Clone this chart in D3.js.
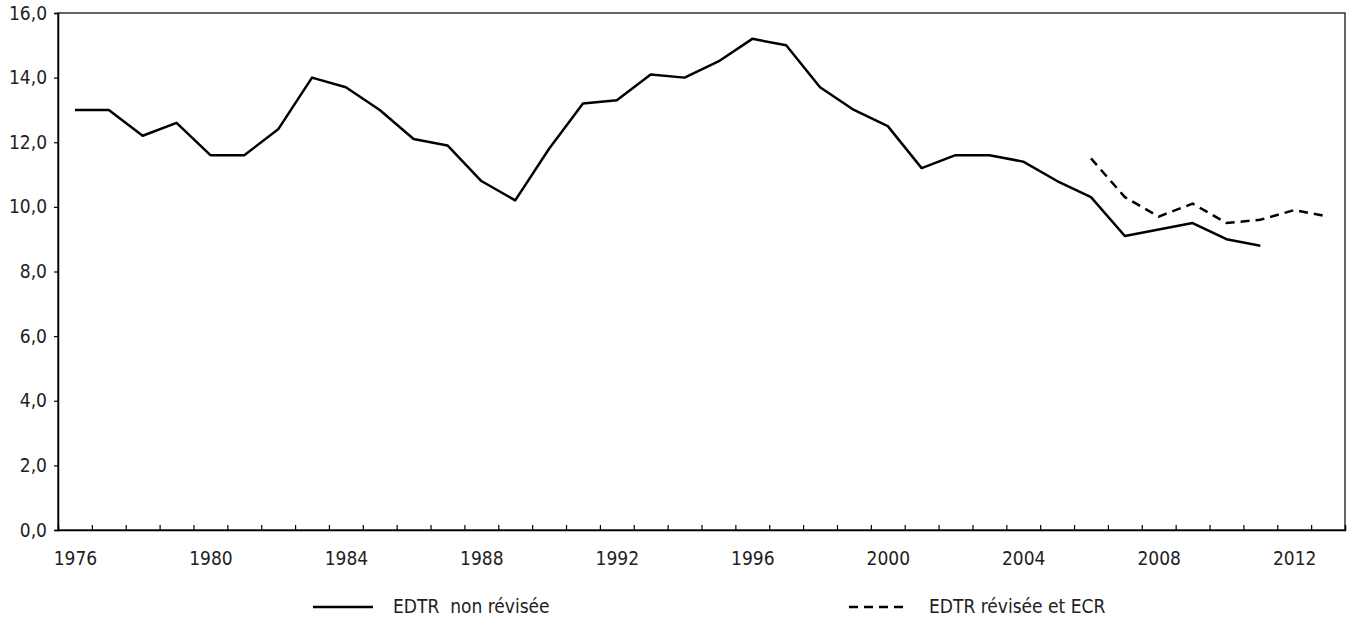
<!DOCTYPE html>
<html>
  <head>
    <meta charset="utf-8" />
    <script src="https://d3js.org/d3.v7.min.js"></script>
    <style>
      body {
        margin: 0;
        background: white;
      }
      svg text {
        font-family: "Liberation Sans Narrow", "DejaVu Sans Condensed", sans-serif;
        font-size: 19px;
        fill: #222;
      }
    </style>
  </head>
  <body>
    <svg id="chart" width="1348" height="619"></svg>
    <script>
      // years on the axis
      var years = d3.range(1976, 2014);
      var labelYears = [1976, 1980, 1984, 1988, 1992, 1996, 2000, 2004, 2008, 2012];
      var yTicks = [0, 2, 4, 6, 8, 10, 12, 14, 16];

      // EDTR non révisée, 1976-2011
      var oldYears = d3.range(1976, 2012);
      var oldValues = [
        13.0, 13.0, 12.2, 12.6, 11.6, 11.6, 12.4, 14.0, 13.7, 13.0,
        12.1, 11.9, 10.8, 10.2, 11.8, 13.2, 13.3, 14.1, 14.0, 14.5,
        15.2, 15.0, 13.7, 13.0, 12.5, 11.2, 11.6, 11.6, 11.4, 10.8,
        10.3, 9.1, 9.3, 9.5, 9.0, 8.8
      ];

      // EDTR révisée et ECR, 2006-2013
      var newYears = d3.range(2006, 2014);
      var newValues = [11.5, 10.3, 9.7, 10.1, 9.5, 9.6, 9.9, 9.7];

      var plotLeft = 58, plotRight = 1345, plotTop = 13, plotBottom = 530;

      var svg = d3.select("#chart");

      // year boundaries are integers, points sit in the middle of each year
      var x = d3.scaleLinear().domain([1976, 2014]).range([plotLeft, plotRight]);
      var y = d3.scaleLinear().domain([0, 16]).range([plotBottom, plotTop]);

      // frame
      svg.append("rect")
        .attr("x", plotLeft)
        .attr("y", plotTop)
        .attr("width", plotRight - plotLeft)
        .attr("height", plotBottom - plotTop)
        .attr("fill", "none")
        .attr("stroke", "#000")
        .attr("stroke-width", 1.2);

      // y axis
      var yAxis = svg.append("g")
        .attr("transform", "translate(" + plotLeft + ",0)")
        .call(d3.axisLeft(y).tickValues(yTicks).tickSize(4).tickPadding(7)
          .tickFormat(function (d) { return d3.format(".1f")(d).replace(".", ","); }));
      yAxis.select(".domain").attr("stroke-width", 1.5);
      yAxis.selectAll(".tick line").attr("stroke-width", 1.2);

      // x ticks at year boundaries, pointing up
      var xTicks = svg.append("g")
        .attr("transform", "translate(0," + plotBottom + ")")
        .call(d3.axisBottom(x).tickValues(years.slice(1)).tickSize(-5).tickFormat(""));
      xTicks.select(".domain").attr("stroke-width", 1.5);
      xTicks.selectAll(".tick line").attr("stroke-width", 1.2);

      // x labels in the middle of each year
      var xLabels = svg.append("g")
        .attr("transform", "translate(0," + plotBottom + ")")
        .call(d3.axisBottom(x).tickValues(labelYears.map(function (d) { return d + 0.5; }))
          .tickSize(0).tickPadding(22).tickFormat(function (d) { return Math.floor(d); }));
      xLabels.select(".domain").remove();

      var line = d3.line()
        .x(function (d) { return x(d[0] + 0.5); })
        .y(function (d) { return y(d[1]); });

      svg.append("path")
        .datum(d3.zip(oldYears, oldValues))
        .attr("fill", "none")
        .attr("stroke", "#000")
        .attr("stroke-width", 2.5)
        .attr("stroke-linejoin", "round")
        .attr("d", line);

      svg.append("path")
        .datum(d3.zip(newYears, newValues))
        .attr("fill", "none")
        .attr("stroke", "#000")
        .attr("stroke-width", 2.5)
        .attr("stroke-dasharray", "9,6")
        .attr("d", line);

      // legend
      var legend = [
        { label: "EDTR\u00a0\u00a0non révisée", dash: null, x: 313 },
        { label: "EDTR révisée et ECR", dash: "9,6", x: 849 }
      ];
      legend.forEach(function (l) {
        svg.append("line")
          .attr("x1", l.x).attr("x2", l.x + 60)
          .attr("y1", 607).attr("y2", 607)
          .attr("stroke", "#000")
          .attr("stroke-width", 2.5)
          .attr("stroke-dasharray", l.dash);
        svg.append("text")
          .attr("x", l.x + 80)
          .attr("y", 613)
          .text(l.label);
      });
    </script>
  </body>
</html>
